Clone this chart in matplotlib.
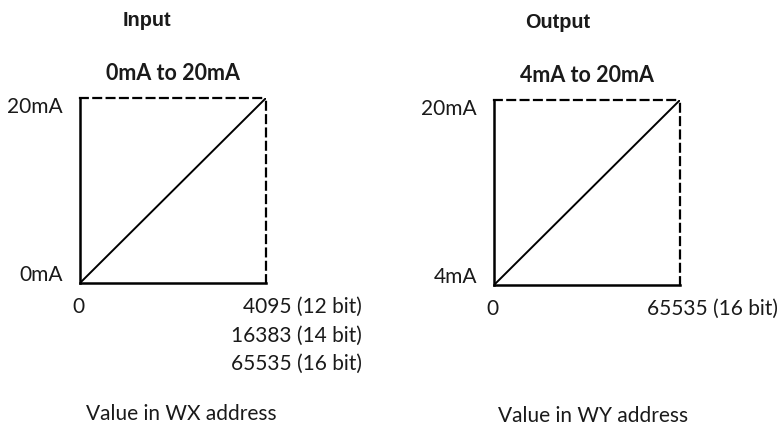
import matplotlib
matplotlib.use("Agg")
import matplotlib.pyplot as plt

plt.rcParams['font.family'] = ['Lato', 'DejaVu Sans']

# input: 0..4095 -> 0..20 mA
in_x = [0, 4095]
in_y = [0, 20]
in_ticks = ['4095 (12 bit)', '16383 (14 bit)', '65535 (16 bit)']

# output: 0..65535 -> 4..20 mA
out_x = [0, 65535]
out_y = [4, 20]
out_ticks = ['65535 (16 bit)']

W, H = 780, 425
fig = plt.figure(figsize=(W / 100, H / 100), dpi=100)
FS = 15
TXT = '#1a1a1a'


def box(x0, x1, y0, y1):
    return [x0 / W, 1 - y1 / H, (x1 - x0) / W, (y1 - y0) / H]


def panel(rect, xs, ys, head, head_x, title, ylabels, xlabels, xlabel):
    ax = fig.add_axes(rect)
    ax.plot(xs, ys, color='black', lw=1.4, solid_capstyle='butt')
    ax.set_xlim(xs[0], xs[-1])
    ax.set_ylim(ys[0], ys[-1])
    for s in ['left', 'bottom']:
        ax.spines[s].set_linewidth(1.8)
    for s in ['top', 'right']:
        ax.spines[s].set_linewidth(1.6)
        ax.spines[s].set_linestyle((0, (3.5, 2.5)))
    ax.set_xticks([])
    ax.set_yticks([])

    tr = ax.transAxes
    ax.text(head_x, 1.42, head, transform=tr, ha='center', va='center',
            family=['Liberation Sans Narrow', 'Liberation Sans'],
            fontweight='bold', fontsize=14.3, color=TXT)
    ax.text(0.5, 1.13, title, transform=tr, ha='center', va='center',
            fontweight='bold', fontsize=15.5, color=TXT)
    ax.text(-0.091, 0.95, ylabels[1], transform=tr, ha='right', va='center',
            fontsize=FS, color=TXT)
    ax.text(-0.091, 0.045, ylabels[0], transform=tr, ha='right', va='center',
            fontsize=FS, color=TXT)
    ax.text(-0.01, -0.13, '0', transform=tr, ha='center', va='center',
            fontsize=FS, color=TXT)
    for i, lab in enumerate(xlabels):
        ax.text(xlabel[1], -0.13 - 0.154 * i, lab, transform=tr, ha='right',
                va='center', fontsize=FS, color=TXT)
    ax.text(xlabel[2], -0.71, xlabel[0], transform=tr, ha='center',
            va='center', fontsize=FS, color=TXT)
    return ax


panel(box(80, 266, 98, 283), in_x, in_y, 'Input', 0.36, '0mA to 20mA',
      ['0mA', '20mA'], in_ticks, ('Value in WX address', 1.516, 0.543))
panel(box(494, 680, 100, 285), out_x, out_y, 'Output', 0.34, '4mA to 20mA',
      ['4mA', '20mA'], out_ticks, ('Value in WY address', 1.527, 0.535))

fig.savefig('out.png', dpi=100)
